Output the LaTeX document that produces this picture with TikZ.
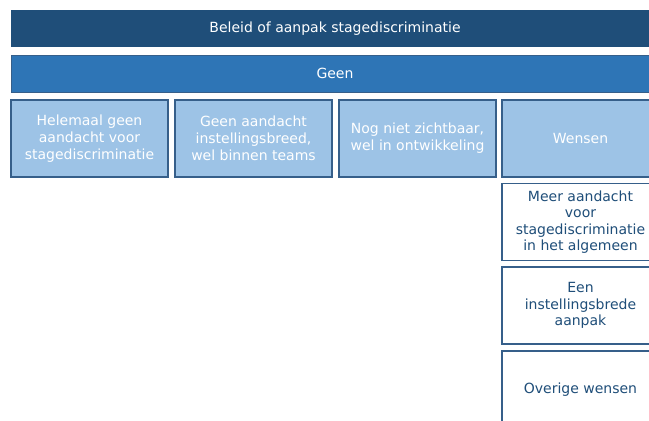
\documentclass[tikz,border=0pt]{standalone}
\usepackage{fontspec}
\setmainfont{DejaVu Sans}
\usetikzlibrary{positioning}

\definecolor{darkbar}{HTML}{1F4E79}
\definecolor{midbar}{HTML}{2E75B6}
\definecolor{lightbox}{HTML}{9DC3E6}
\definecolor{boxline}{HTML}{365F8A}
\definecolor{wishtext}{HTML}{1F4E79}

\tikzset{
  bar/.style={minimum width=648pt,minimum height=37pt,inner sep=0pt,text=white,
    font=\fontsize{14}{17}\selectfont},
  catbox/.style={draw=boxline,line width=1.3pt,fill=lightbox,text=white,align=center,
    minimum width=157pt,minimum height=77pt,inner sep=0pt,
    font=\fontsize{14}{17}\selectfont},
  wishbox/.style={draw=boxline,line width=1.3pt,fill=white,text=wishtext,align=center,
    minimum width=157pt,minimum height=77pt,inner sep=0pt,
    font=\fontsize{14}{16.4}\selectfont}
}

\begin{document}
\begin{tikzpicture}[x=1pt,y=-1pt]
    \useasboundingbox (0,0) rectangle (649,421);
    \clip (0,0) rectangle (649,421);
    \fill[white] (0,0) rectangle (649,421);
    % kopbalken
    \node[bar,fill=darkbar] (beleid) at (335,28.5) {Beleid of aanpak stagediscriminatie};
    \node[bar,fill=midbar,draw=boxline,line width=1pt] (geen) at (335,73.5) {Geen};
    % categorieen
    \node[catbox] (helemaal) at (89.5,138.5) {Helemaal geen\\aandacht voor\\stagediscriminatie};
    \node[catbox] (teams) at (253.5,138.5) {Geen aandacht\\instellingsbreed,\\wel binnen teams};
    \node[catbox] (ontwikkeling) at (417.5,138.5) {Nog niet zichtbaar,\\wel in ontwikkeling};
    \node[catbox] (wensen) at (580.5,138.5) {Wensen};
    % wensen
    \node[wishbox] (meer) at (580.5,222) {Meer aandacht\\voor\\stagediscriminatie\\in het algemeen};
    \node[wishbox] (breed) at (580.5,305.5) {Een\\instellingsbrede\\aanpak};
    \node[wishbox] (overig) at (580.5,389.5) {Overige wensen};
\end{tikzpicture}
\end{document}
